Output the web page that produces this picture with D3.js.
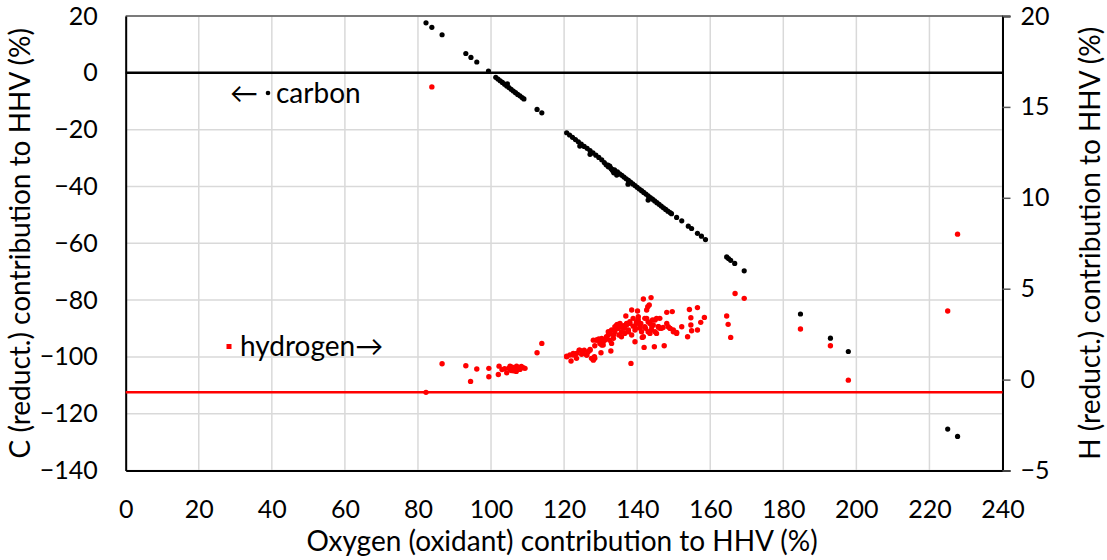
<!DOCTYPE html>
<html><head><meta charset="utf-8">
<script src="https://cdn.jsdelivr.net/npm/d3@7"></script>
<style>body{margin:0;background:#fff}svg{display:block}text{font-family:Lato,"Open Sans",sans-serif;fill:#000}</style>
</head><body><svg id="c" width="1107" height="560"></svg>
<script>
const xTicks=[0,20,40,60,80,100,120,140,160,180,200,220,240];
const leftTicks=[20,0,-20,-40,-60,-80,-100,-120,-140];
const rightTicks=[20,15,10,5,0,-5];
const carbonZero=0;        // black reference line (left axis)
const hydrogenRef=-0.7;    // red reference line (right axis)
// carbon contribution [O %, C %] (left axis)
const carbon=[[82.2,17.6],[83.8,16.0],[86.6,13.4],[93.1,6.8],[94.5,5.4],[96.1,3.8],[99.3,0.6],
[101.3,-1.6],[101.9,-2.2],[102.5,-2.8],[103.1,-3.4],[103.7,-4.0],[104.5,-3.9],[104.3,-4.6],[104.9,-5.2],[105.5,-5.8],[106.1,-6.4],[106.7,-7.0],[107.3,-7.6],[107.9,-8.1],[108.5,-8.7],[109.0,-9.2],
[112.6,-12.9],[113.9,-14.1],
[120.7,-21.1],[121.5,-21.9],[122.3,-22.7],[123.1,-23.5],[123.9,-24.3],[124.3,-25.8],[124.7,-25.1],[125.5,-25.9],[126.3,-26.6],[127.1,-28.7],[127.1,-27.4],[127.9,-28.2],[128.7,-29.0],[129.5,-29.8],[130.3,-30.6],[131.0,-31.6],[131.5,-32.4],[132.1,-33.1],[132.5,-32.8],[132.0,-32.5],[132.8,-33.6],[133.2,-34.2],[133.6,-35.2],[134.0,-35.0],[133.0,-33.9],[133.4,-34.6],[133.8,-34.2],[134.4,-36.0],[134.6,-34.9],[135.2,-35.6],[135.8,-36.1],[136.4,-36.7],[137.0,-37.3],[137.5,-39.2],[137.6,-37.9],[138.2,-38.5],[138.8,-39.1],[139.4,-39.7],[140.0,-40.3],[140.6,-40.9],[141.2,-41.5],[141.8,-42.1],[142.4,-42.7],[143.0,-44.8],[143.0,-43.3],[143.6,-43.9],[144.2,-44.5],[144.8,-45.1],[145.4,-45.7],[146.0,-46.3],[146.6,-46.9],[147.2,-47.5],[147.8,-48.1],[148.4,-48.7],[149.0,-49.2],[149.4,-49.6],[150.8,-50.9],[152.2,-52.1],[154.0,-54.0],[154.9,-54.8],[156.5,-56.5],[157.6,-57.5],[158.7,-58.7],
[164.5,-64.8],[165.0,-65.4],[165.6,-66.0],[166.7,-67.1],[169.3,-69.7],[184.7,-84.9],[192.9,-93.4],[197.8,-98.1],[225.0,-125.4],[227.7,-128.0]];
// hydrogen contribution [O %, H %] (right axis)
const hydrogen=[[82.2,-0.7],[83.8,16.1],[86.6,0.87],[93.1,0.76],[94.4,-0.1],[96.1,0.58],[99.4,0.62],[99.4,0.16],
[102.0,0.28],[102.2,0.74],[103.0,0.55],[103.7,0.6],[104.3,0.37],[104.8,0.62],[105.2,0.74],[105.5,0.5],[105.8,0.68],[106.1,0.49],[106.6,0.55],[106.9,0.45],[107.0,0.74],[107.4,0.62],[107.9,0.56],[108.0,0.66],[108.3,0.72],[108.8,0.65],[109.3,0.62],
[112.6,1.48],[113.9,1.99],
[120.7,1.29],[121.9,1.02],[122.5,1.35],[123.4,1.44],[124.1,1.62],[124.8,1.39],[125.5,1.62],[126.2,1.35],[126.6,1.53],[127.1,1.66],[127.5,1.17],[128.0,1.07],[128.3,1.26],[128.4,1.86],[128.9,2.18],[129.5,2.23],[130.1,1.48],[130.3,1.90],[130.7,2.08],[131.2,2.18],[131.6,2.27],[132.1,2.45],[132.5,2.54],[132.8,1.57],[133.0,1.99],[133.5,2.27],[133.9,2.63],[134.4,2.82],[134.6,3.04],[135.0,2.45],[135.3,2.91],[135.7,2.63],[136.2,2.96],[136.6,2.82],[136.9,3.50],[137.1,3.09],[137.6,2.63],[138.0,3.09],[138.3,0.89],[138.5,3.83],[138.9,3.37],[139.4,2.08],[139.6,2.82],[139.8,3.18],[140.1,3.77],[140.3,3.46],[140.8,2.91],[141.0,3.09],[141.4,2.32],[141.7,4.43],[141.9,1.77],[142.1,3.37],[142.3,2.82],[142.6,3.83],[142.9,4.01],[143.0,3.18],[143.3,4.10],[143.5,2.54],[143.8,4.51],[144.0,2.91],[144.2,3.28],[144.7,1.81],[144.9,2.63],[145.3,3.37],[145.8,2.91],[146.2,3.37],[146.7,2.82],[147.4,1.86],[148.1,3.70],[148.5,2.91],[149.0,2.82],[149.6,3.74],[149.9,2.73],[150.8,2.60],[152.2,2.91],[153.8,2.36],[154.3,3.86],[154.7,3.40],[154.7,3.00],[154.9,2.69],[156.5,3.96],[156.5,2.73],[157.4,3.15],[158.4,3.42],
[120.7,1.26],[121.6,1.35],[122.5,1.44],[123.4,1.17],[124.3,1.62],[125.2,1.44],[126.2,1.35],[127.1,1.62],[128.0,2.17],[128.4,1.17],[128.9,2.17],[129.8,1.99],[130.3,2.27],[130.7,1.90],[131.6,2.36],[132.1,2.63],[132.5,2.17],[133.0,2.73],[133.5,2.45],[133.9,2.91],[134.4,3.00],[134.8,2.82],[135.3,3.09],[135.7,2.36],[136.2,2.87],[136.6,2.54],[137.1,3.00],[137.6,2.73],[138.0,3.18],[138.5,2.45],[138.9,2.94],[139.4,2.73],[139.8,3.09],[140.3,3.28],[140.8,2.82],[141.2,2.63],[141.7,2.36],[142.1,2.91],[142.6,3.37],[143.0,2.63],[143.5,3.09],[143.9,2.73],[144.4,3.00],[144.9,3.28],[145.3,2.54],[145.8,2.91],[146.2,2.82],[147.1,2.87],[148.1,3.09],[149.0,2.82],[149.9,2.63],[150.8,2.54],
[164.5,3.50],[164.9,3.04],[165.6,2.32],[166.8,4.74],[169.3,4.47],[184.7,2.78],[192.9,1.86],[197.8,-0.03],[225.0,3.77],[227.7,8.0]];

const svg=d3.select("#c");
const L=125.7,R=1002.5,T=16,B=470.5;
const x=d3.scaleLinear().domain([0,240]).range([L,R]);
const yL=d3.scaleLinear().domain([-140,20]).range([B,T]);
const yR=d3.scaleLinear().domain([-5,20]).range([B,T]);
const FS=25;

// gridlines
const g=svg.append("g");
g.selectAll(".vx").data(xTicks).join("line").attr("x1",d=>x(d)).attr("x2",d=>x(d)).attr("y1",T).attr("y2",B).attr("stroke","#d9d9d9").attr("stroke-width",1.5);
g.selectAll(".hy").data(leftTicks).join("line").attr("y1",d=>yL(d)).attr("y2",d=>yL(d)).attr("x1",L).attr("x2",R).attr("stroke","#d9d9d9").attr("stroke-width",1.5);
// top border
svg.append("line").attr("x1",L).attr("x2",R).attr("y1",T).attr("y2",T).attr("stroke","#595959").attr("stroke-width",1.5);

// axes
const ax=svg.append("g").attr("transform",`translate(0,${B})`).call(d3.axisBottom(x).tickValues(xTicks).tickSize(0).tickPadding(30));
const al=svg.append("g").attr("transform",`translate(${L},0)`).call(d3.axisLeft(yL).tickValues(leftTicks).tickSize(0).tickPadding(28));
const ar=svg.append("g").attr("transform",`translate(${R},0)`).call(d3.axisRight(yR).tickValues(rightTicks).tickSize(8).tickPadding(10));
[ax,al,ar].forEach(a=>{a.selectAll("text").style("font-size",FS+"px").style("font-family","Lato");a.select(".domain").attr("stroke","#000").attr("stroke-width",2);});
ar.selectAll(".tick line").attr("stroke","#595959").attr("stroke-width",1.5);

// reference lines
svg.append("line").attr("x1",L).attr("x2",R).attr("y1",yL(carbonZero)).attr("y2",yL(carbonZero)).attr("stroke","#000").attr("stroke-width",2.5);
svg.append("line").attr("x1",L).attr("x2",R).attr("y1",yR(hydrogenRef)).attr("y2",yR(hydrogenRef)).attr("stroke","#ff0000").attr("stroke-width",2.5);

// points
svg.append("g").selectAll("circle").data(carbon).join("circle").attr("cx",d=>x(d[0])).attr("cy",d=>yL(d[1])).attr("r",2.6).attr("fill","#000");
svg.append("g").selectAll("circle").data(hydrogen).join("circle").attr("cx",d=>x(d[0])).attr("cy",d=>yR(d[1])).attr("r",2.7).attr("fill","#ff0000");

// annotations
svg.append("text").attr("x",230).attr("y",103).style("font-size","28px").text("\u2190");
svg.append("circle").attr("cx",268).attr("cy",93).attr("r",2.3).attr("fill","#000");
svg.append("text").attr("x",276).attr("y",103).style("font-size","28px").text("carbon");
svg.append("rect").attr("x",226.5).attr("y",344).attr("width",5).attr("height",5).attr("fill","#ff0000");
svg.append("text").attr("x",240).attr("y",356).style("font-size","28px").text("hydrogen\u2192");

// axis titles
svg.append("text").attr("x",(L+R)/2 - 2).attr("y",551).attr("text-anchor","middle").style("font-size","28px").text("Oxygen (oxidant) contribution to HHV (%)");
svg.append("text").attr("transform",`translate(30,${(T+B)/2}) rotate(-90)`).attr("text-anchor","middle").style("font-size","28px").text("C  (reduct.) contribution to HHV (%)");
svg.append("text").attr("transform",`translate(1100,${(T+B)/2}) rotate(-90)`).attr("text-anchor","middle").style("font-size","28px").text("H (reduct.) contribution to HHV (%)");
</script></body></html>
